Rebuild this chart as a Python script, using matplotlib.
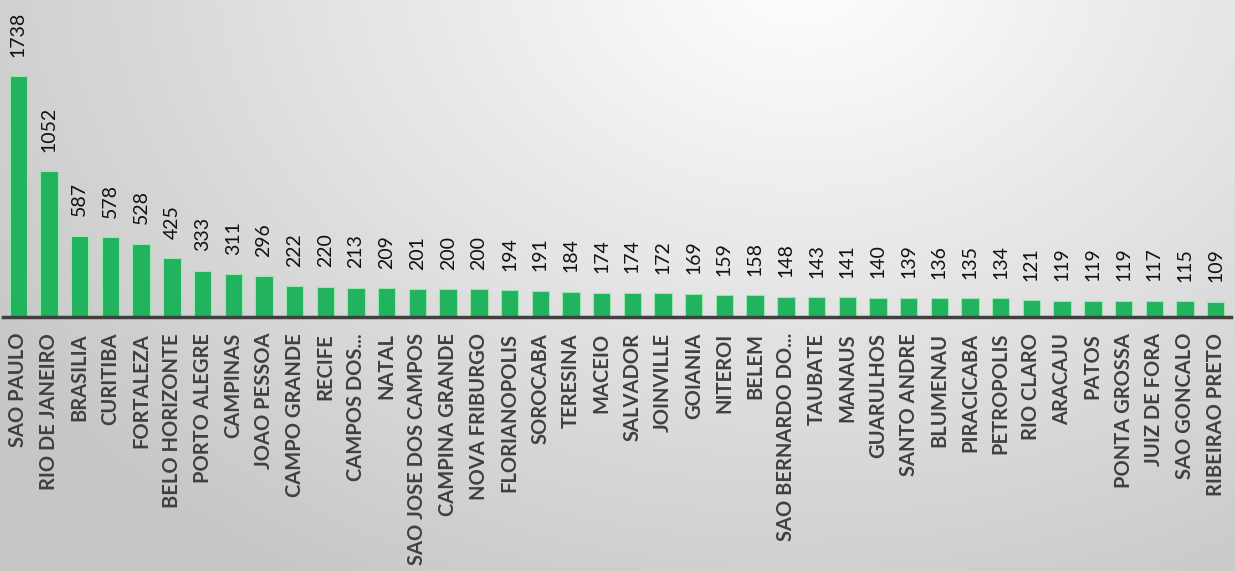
import matplotlib
matplotlib.use("Agg")
import matplotlib.pyplot as plt
import numpy as np

# Cidades e quantidades (ordenadas da maior para a menor)
cidades = ["SAO PAULO", "RIO DE JANEIRO", "BRASILIA", "CURITIBA", "FORTALEZA",
           "BELO HORIZONTE", "PORTO ALEGRE", "CAMPINAS", "JOAO PESSOA", "CAMPO GRANDE",
           "RECIFE", "CAMPOS DOS...", "NATAL", "SAO JOSE DOS CAMPOS", "CAMPINA GRANDE",
           "NOVA FRIBURGO", "FLORIANOPOLIS", "SOROCABA", "TERESINA", "MACEIO",
           "SALVADOR", "JOINVILLE", "GOIANIA", "NITEROI", "BELEM",
           "SAO BERNARDO DO...", "TAUBATE", "MANAUS", "GUARULHOS", "SANTO ANDRE",
           "BLUMENAU", "PIRACICABA", "PETROPOLIS", "RIO CLARO", "ARACAJU",
           "PATOS", "PONTA GROSSA", "JUIZ DE FORA", "SAO GONCALO", "RIBEIRAO PRETO"]
quantidades = [1738, 1052, 587, 578, 528, 425, 333, 311, 296, 222,
               220, 213, 209, 201, 200, 200, 194, 191, 184, 174,
               174, 172, 169, 159, 158, 148, 143, 141, 140, 139,
               136, 135, 134, 121, 119, 119, 119, 117, 115, 109]

plt.rcParams['font.family'] = ['Lato', 'DejaVu Sans']

fig = plt.figure(figsize=(12.35, 5.71), dpi=100)

# fundo com gradiente radial (claro no alto, cinza nos cantos)
bg = fig.add_axes([0, 0, 1, 1])
gx, gy = np.meshgrid(np.linspace(0, 1, 400), np.linspace(0, 1, 200))
dist = np.sqrt(((gx - 0.65) * 1.6) ** 2 + (gy - 1.05) ** 2)
dist = np.clip(dist / 1.25, 0, 1)
tom = 1.0 - 0.22 * dist
bg.imshow(np.dstack([tom, tom, tom]), extent=[0, 1, 0, 1], origin='lower',
          aspect='auto', interpolation='bilinear')
bg.axis('off')

ax = fig.add_axes([3 / 1235, (571 - 317) / 571, 1228 / 1235, 317 / 571])
ax.patch.set_alpha(0)

x = np.arange(len(cidades))
barras = ax.bar(x, quantidades, width=0.57, color='#22b35e',
                edgecolor='#9be6b0', linewidth=0.8)

for xi, v in zip(x, quantidades):
    ax.annotate(str(v), (xi, v), xytext=(0, 14), textcoords='offset points',
                rotation=90, ha='center', va='bottom', fontsize=14, color='#111111')

ax.set_xlim(-0.5, len(cidades) - 0.5)
ax.set_ylim(0, 2290)
ax.set_xticks(x)
ax.set_xticklabels(cidades, rotation=90, fontsize=14.5, fontweight='bold', color='#404040')
ax.tick_params(axis='x', length=0, pad=11.5)
ax.set_yticks([])
for lado in ['top', 'right', 'left']:
    ax.spines[lado].set_visible(False)
ax.spines['bottom'].set_color('#404040')
ax.spines['bottom'].set_linewidth(2.5)

fig.savefig("out.png", dpi=100)
plt.close(fig)
